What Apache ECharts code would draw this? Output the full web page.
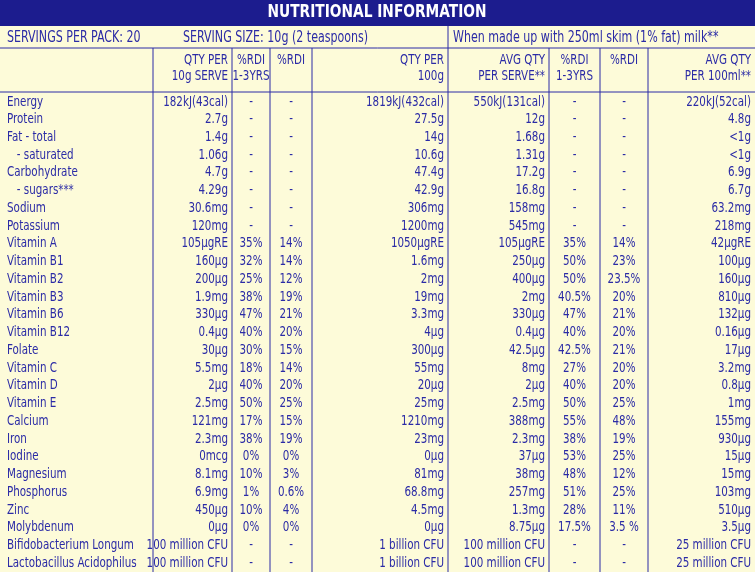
<!DOCTYPE html>
<html><head><meta charset="utf-8">
<script src="https://cdn.jsdelivr.net/npm/echarts@6/dist/echarts.min.js"></script>
<style>html,body{margin:0;padding:0;background:#fdfbd9}#main{width:755px;height:572px}</style>
</head><body><div id="main"></div>
<script>
var nutrients = ['Energy','Protein','Fat - total','   - saturated','Carbohydrate','   - sugars***','Sodium','Potassium','Vitamin A','Vitamin B1','Vitamin B2','Vitamin B3','Vitamin B6','Vitamin B12','Folate','Vitamin C','Vitamin D','Vitamin E','Calcium','Iron','Iodine','Magnesium','Phosphorus','Zinc','Molybdenum','Bifidobacterium Longum','Lactobacillus Acidophilus'];
var qtyServe = ['182kJ(43cal)','2.7g','1.4g','1.06g','4.7g','4.29g','30.6mg','120mg','105µgRE','160µg','200µg','1.9mg','330µg','0.4µg','30µg','5.5mg','2µg','2.5mg','121mg','2.3mg','0mcg','8.1mg','6.9mg','450µg','0µg','100 million CFU','100 million CFU'];
var rdiKids = ['-','-','-','-','-','-','-','-','35%','32%','25%','38%','47%','40%','30%','18%','40%','50%','17%','38%','0%','10%','1%','10%','0%','-','-'];
var rdiAdult = ['-','-','-','-','-','-','-','-','14%','14%','12%','19%','21%','20%','15%','14%','20%','25%','15%','19%','0%','3%','0.6%','4%','0%','-','-'];
var qty100g = ['1819kJ(432cal)','27.5g','14g','10.6g','47.4g','42.9g','306mg','1200mg','1050µgRE','1.6mg','2mg','19mg','3.3mg','4µg','300µg','55mg','20µg','25mg','1210mg','23mg','0µg','81mg','68.8mg','4.5mg','0µg','1 billion CFU','1 billion CFU'];
var milkServe = ['550kJ(131cal)','12g','1.68g','1.31g','17.2g','16.8g','158mg','545mg','105µgRE','250µg','400µg','2mg','330µg','0.4µg','42.5µg','8mg','2µg','2.5mg','388mg','2.3mg','37µg','38mg','257mg','1.3mg','8.75µg','100 million CFU','100 million CFU'];
var milkRdiKids = ['-','-','-','-','-','-','-','-','35%','50%','50%','40.5%','47%','40%','42.5%','27%','40%','50%','55%','38%','53%','48%','51%','28%','17.5%','-','-'];
var milkRdiAdult = ['-','-','-','-','-','-','-','-','14%','23%','23.5%','20%','21%','20%','21%','20%','20%','25%','48%','19%','25%','12%','25%','11%','3.5 %','-','-'];
var milk100ml = ['220kJ(52cal)','4.8g','<1g','<1g','6.9g','6.7g','63.2mg','218mg','42µgRE','100µg','160µg','810µg','132µg','0.16µg','17µg','3.2mg','0.8µg','1mg','155mg','930µg','15µg','15mg','103mg','510µg','3.5µg','25 million CFU','25 million CFU'];
var headers = ['', 'QTY PER\n10g SERVE', '%RDI\n1-3YRS', '%RDI', 'QTY PER\n100g', 'AVG QTY\nPER SERVE**', '%RDI\n1-3YRS', '%RDI', 'AVG QTY\nPER 100ml**'];

var columns = [nutrients, qtyServe, rdiKids, rdiAdult, qty100g, milkServe, milkRdiKids, milkRdiAdult, milk100ml];
var colEdges = [0, 153, 232, 270, 312, 448, 549, 600, 648, 755];
var colAlign = ['left','right','center','center','right','right','center','center','right'];
var blue = '#2b2ba6';
var font = '"DejaVu Sans Condensed","Liberation Sans",sans-serif';
var squeeze = 0.82;

function alignX(c) {
  if (colAlign[c] == 'left') return colEdges[c] + 7;
  if (colAlign[c] == 'right') return colEdges[c+1] - 4;
  return (colEdges[c] + colEdges[c+1]) / 2;
}

var cells = [];
columns.forEach(function (col, c) {
  col.forEach(function (v, r) { cells.push([c, r, v]); });
});

var myChart = echarts.init(document.getElementById('main'));

function label(x, y, text, size, align, extra) {
  var s = {text:text, fill:blue, font:size + 'px ' + font, align:align || 'left', verticalAlign:'middle'};
  for (var k in extra) s[k] = extra[k];
  return {type:'text', x:x, y:y, scaleX:squeeze, style:s};
}

var gfx = [
  {type:'rect', shape:{x:0,y:0,width:755,height:26}, style:{fill:'#1c1c8e'}},
  {type:'text', x:377, y:13, scaleX:0.9, style:{text:'NUTRITIONAL INFORMATION', fill:'#fff', font:'bold 17px ' + font, align:'center', verticalAlign:'middle'}},
  label(7, 38, 'SERVINGS PER PACK: 20', 15),
  label(183, 38, 'SERVING SIZE: 10g (2 teaspoons)', 15),
  label(453, 38, 'When made up with 250ml skim (1% fat) milk**', 15),
  {type:'line', shape:{x1:0,y1:48,x2:755,y2:48}, style:{stroke:blue,lineWidth:1}},
  {type:'line', shape:{x1:0,y1:92,x2:755,y2:92}, style:{stroke:blue,lineWidth:1}},
  {type:'line', shape:{x1:448,y1:26,x2:448,y2:48}, style:{stroke:blue,lineWidth:1}}
];
headers.forEach(function (h, c) {
  if (!h) return;
  gfx.push(label(alignX(c), 52, h, 14, colAlign[c], {verticalAlign:'top', lineHeight:16}));
});

option = {
  backgroundColor: '#fdfbd9',
  animation: false,
  graphic: gfx,
  grid: {left:0, right:0, top:93, bottom:0},
  xAxis: {type:'value', min:0, max:755, show:false},
  yAxis: {type:'category', data:nutrients, inverse:true, show:false},
  series: [{
    type: 'custom',
    data: cells,
    renderItem: function (params, api) {
      var c = api.value(0), r = api.value(1);
      var pt = api.coord([0, r]);
      var children = [{
        type:'text', x:alignX(c), y:pt[1], scaleX:squeeze,
        style:{text:cells[params.dataIndex][2], fill:blue, font:'14px ' + font, align:colAlign[c], verticalAlign:'middle'}
      }];
      if (r == 0 && c > 0) {
        children.push({type:'line', shape:{x1:colEdges[c],y1:48,x2:colEdges[c],y2:572}, style:{stroke:blue,lineWidth:1}});
      }
      return {type:'group', children:children};
    }
  }]
};

if (option && typeof option === "object") {
  myChart.setOption(option, true);
}
</script></body></html>
